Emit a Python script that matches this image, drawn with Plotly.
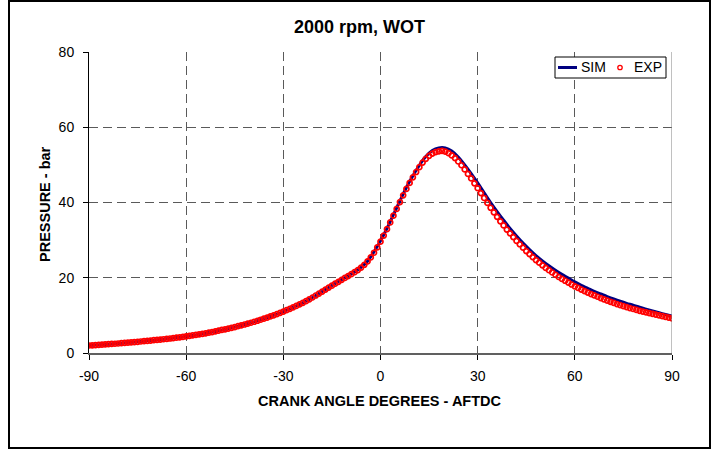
import plotly.graph_objects as go

# ---------------- data ----------------
exp_angle = list(range(-90, 91))
exp_pressure = [
    2.00, 2.05, 2.10, 2.15, 2.20, 2.28, 2.34, 2.40, 2.46, 2.53,   # -90..-81
    2.60, 2.67, 2.74, 2.82, 2.90, 2.98, 3.06, 3.14, 3.22, 3.31,   # -80..-71
    3.40, 3.48, 3.57, 3.66, 3.75, 3.85, 3.95, 4.06, 4.17, 4.28,   # -70..-61
    4.40, 4.53, 4.66, 4.80, 4.94, 5.08, 5.24, 5.40, 5.57, 5.75,   # -60..-51
    5.94, 6.12, 6.30, 6.50, 6.70, 6.90, 7.12, 7.34, 7.57, 7.80,   # -50..-41
    8.04, 8.30, 8.57, 8.84, 9.12, 9.41, 9.71, 10.02, 10.34, 10.67,  # -40..-31
    11.01, 11.37, 11.73, 12.11, 12.50, 12.90, 13.33, 13.78, 14.25, 14.75,  # -30..-21
    15.28, 15.80, 16.32, 16.85, 17.38, 17.90, 18.42, 18.93, 19.44, 19.95,  # -20..-11
    20.45, 20.95, 21.48, 22.05, 22.70, 23.45, 24.35, 25.40, 26.65, 28.05,  # -10..-1
    29.60, 31.20, 32.90, 34.70, 36.50, 38.30, 40.10, 41.90, 43.60, 45.20,  # 0..9
    46.70, 48.10, 49.40, 50.60, 51.60, 52.40, 53.00, 53.40, 53.60, 53.70,  # 10..19
    53.50, 53.10, 52.50, 51.80, 50.90, 49.90, 48.80, 47.60, 46.40, 45.10,  # 20..29
    43.80, 42.50, 41.20, 39.90, 38.60, 37.40, 36.20, 35.00, 33.90, 32.80,  # 30..39
    31.80, 30.80, 29.80, 28.90, 28.00, 27.10, 26.30, 25.50, 24.70, 24.00,  # 40..49
    23.30, 22.60, 22.00, 21.40, 20.80, 20.20, 19.70, 19.20, 18.70, 18.20,  # 50..59
    17.70, 17.30, 16.85, 16.45, 16.05, 15.65, 15.30, 14.95, 14.60, 14.25,  # 60..69
    13.90, 13.60, 13.30, 13.00, 12.70, 12.45, 12.20, 11.95, 11.70, 11.45,  # 70..79
    11.20, 11.00, 10.80, 10.60, 10.40, 10.20, 10.00, 9.80, 9.60, 9.40,     # 80..89
    9.20,                                                                 # 90
]

sim_angle = list(range(-90, 91, 2))
sim_pressure = [
    2.00, 2.10, 2.20, 2.34, 2.47, 2.60, 2.75, 2.90, 3.06, 3.23,   # -90..-72
    3.40, 3.58, 3.76, 3.96, 4.17, 4.40, 4.66, 4.94, 5.24, 5.57,   # -70..-52
    5.94, 6.30, 6.70, 7.12, 7.57, 8.04, 8.57, 9.12, 9.71, 10.34,  # -50..-32
    11.01, 11.73, 12.50, 13.33, 14.25, 15.28, 16.35, 17.40, 18.45, 19.50,  # -30..-12
    20.50, 21.55, 22.75, 24.40, 26.90, 29.80, 33.10, 36.80, 40.40, 44.00,  # -10..8
    47.10, 49.90, 52.20, 53.80, 54.50, 54.50, 53.70, 52.10, 50.00, 47.70,  # 10..28
    45.20, 42.60, 40.00, 37.60, 35.30, 33.10, 31.10, 29.20, 27.50, 25.90,  # 30..48
    24.50, 23.20, 22.00, 20.90, 19.90, 18.90, 18.00, 17.20, 16.40, 15.70,  # 50..68
    15.00, 14.35, 13.75, 13.20, 12.70, 12.15, 11.65, 11.15, 10.70, 10.25,  # 70..88
    9.80,                                                                 # 90
]

x_ticks = [-90, -60, -30, 0, 30, 60, 90]
y_ticks = [0, 20, 40, 60, 80]
series_names = ["SIM", "EXP"]

# ---------------- layout geometry (pixels) ----------------
W, H = 717, 451
PL, PR, PT, PB = 89, 672, 52, 353
pw, ph = PR - PL, PB - PT


def px_x(x):
    return (x - PL) / pw


def px_y(y):
    return (PB - y) / ph


FONT = "Liberation Sans, Arial, sans-serif"
SIM_COLOR = "#000080"
EXP_COLOR = "#ff0000"

fig = go.Figure()
fig.add_trace(go.Scatter(
    x=sim_angle, y=sim_pressure, name=series_names[0], mode="lines",
    line=dict(color=SIM_COLOR, width=3, shape="spline"), showlegend=False,
))
fig.add_trace(go.Scatter(
    x=exp_angle, y=exp_pressure, name=series_names[1], mode="markers",
    marker=dict(symbol="circle-open", size=5, color=EXP_COLOR,
                line=dict(color=EXP_COLOR, width=1.7)), showlegend=False,
))

grid = dict(showgrid=True, gridcolor="#5a5a5a", gridwidth=1, griddash="9px,5px")

fig.update_xaxes(
    range=[-90, 90], tickvals=x_ticks, ticktext=[str(v) for v in x_ticks],
    showline=True, linecolor="#606060", linewidth=2,
    ticks="outside", ticklen=5, tickcolor="#000000", tickwidth=1,
    tickfont=dict(family=FONT, size=14, color="#000000"),
    zeroline=False, ticklabelstandoff=4, **grid,
)
fig.update_yaxes(
    range=[0, 80], tickvals=y_ticks,
    showline=True, linecolor="#000000", linewidth=1,
    ticks="outside", ticklen=5, tickcolor="#000000", tickwidth=1,
    tickfont=dict(family=FONT, size=14, color="#000000"),
    zeroline=False, ticklabelstandoff=6, **grid,
)

# legend box (drawn as shapes + text, pixel positions)
LG_Y = 67.5
shapes = [
    dict(type="line", xref="x", yref="paper", x0=90, x1=90, y0=0, y1=1,
         line=dict(color="#808080", width=1)),
    dict(type="rect", xref="paper", yref="paper",
         x0=px_x(9), x1=px_x(710), y0=px_y(448), y1=px_y(1),
         line=dict(color="#000000", width=2), layer="below"),
    dict(type="rect", xref="paper", yref="paper",
         x0=px_x(555), x1=px_x(666), y0=px_y(78), y1=px_y(57),
         line=dict(color="#000000", width=1), fillcolor="white"),
    dict(type="line", xref="paper", yref="paper",
         x0=px_x(558), x1=px_x(577), y0=px_y(LG_Y), y1=px_y(LG_Y),
         line=dict(color=SIM_COLOR, width=3)),
    dict(type="circle", xref="paper", yref="paper",
         x0=px_x(617.8), x1=px_x(622.2), y0=px_y(LG_Y + 2.2), y1=px_y(LG_Y - 2.2),
         line=dict(color=EXP_COLOR, width=1.3)),
]

annotations = [
    dict(text="<b>2000 rpm, WOT</b>", xref="paper", yref="paper",
         x=px_x(359.7), y=px_y(27.3), xanchor="center", yanchor="middle",
         showarrow=False, font=dict(family=FONT, size=18, color="#000000")),
    dict(text="<b>CRANK ANGLE DEGREES - AFTDC</b>", xref="paper", yref="paper",
         x=px_x(379.5), y=px_y(401.3), xanchor="center", yanchor="middle",
         showarrow=False, font=dict(family=FONT, size=14.5, color="#000000")),
    dict(text="<b>PRESSURE - bar</b>", xref="paper", yref="paper",
         x=px_x(45), y=px_y(204), xanchor="center", yanchor="middle",
         textangle=-90, showarrow=False,
         font=dict(family=FONT, size=14.5, color="#000000")),
    dict(text=series_names[0], xref="paper", yref="paper",
         x=px_x(579), y=px_y(LG_Y), xanchor="left", yanchor="middle",
         showarrow=False, font=dict(family=FONT, size=14, color="#000000")),
    dict(text=series_names[1], xref="paper", yref="paper",
         x=px_x(632), y=px_y(LG_Y), xanchor="left", yanchor="middle",
         showarrow=False, font=dict(family=FONT, size=14, color="#000000")),
]

fig.update_layout(
    width=W, height=H,
    margin=dict(l=PL, r=W - PR, t=PT, b=H - PB, pad=0),
    paper_bgcolor="white", plot_bgcolor="white",
    showlegend=False,
    shapes=shapes,
    annotations=annotations,
)

fig.write_html("out.html")
